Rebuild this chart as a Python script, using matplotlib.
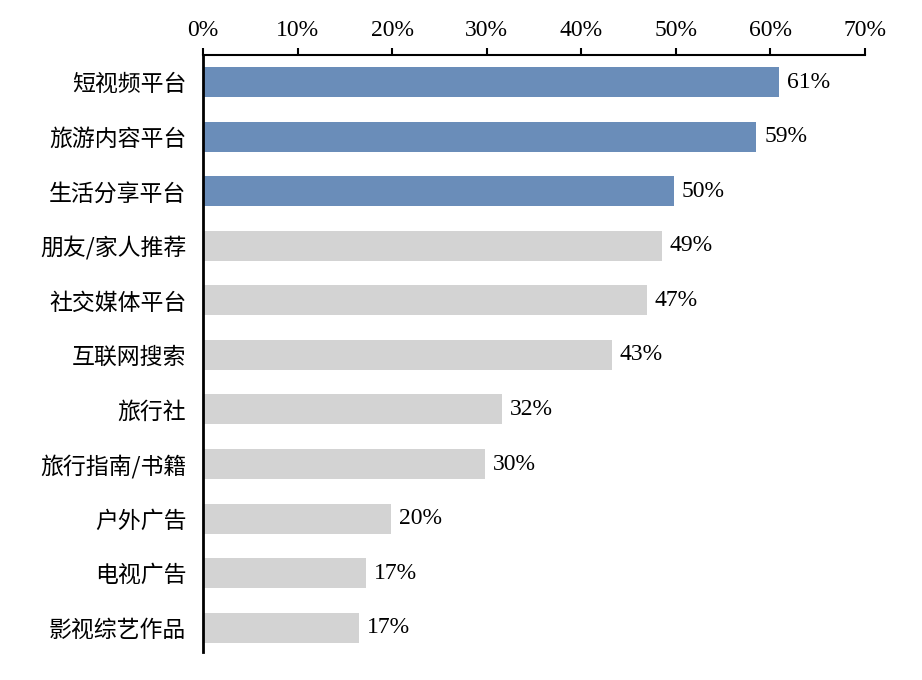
import numpy as np
import matplotlib.pyplot as plt
from matplotlib.ticker import PercentFormatter

# 信息渠道（从上到下）
channels = ['短视频平台', '旅游内容平台', '生活分享平台', '朋友/家人推荐', '社交媒体平台',
            '互联网搜索', '旅行社', '旅行指南/书籍', '户外广告', '电视广告', '影视综艺作品']
# 条形长度（%，从图上估读）
values = [60.9, 58.5, 49.8, 48.5, 46.9, 43.2, 31.6, 29.8, 19.9, 17.2, 16.5]
# 数据标签
value_labels = ['61%', '59%', '50%', '49%', '47%', '43%', '32%', '30%', '20%', '17%', '17%']
n_highlight = 3

blue = '#6A8DB9'
grey = '#D3D3D3'

fig = plt.figure(figsize=(9.22, 6.8), dpi=100)
ax = fig.add_axes([0.2202, 0.041, 0.718, 0.878])

y = np.arange(len(channels))
colors = [blue if i < n_highlight else grey for i in range(len(channels))]
ax.barh(y, values, height=0.55, color=colors)

for yi, v, lab in zip(y, values, value_labels):
    ax.text(v + 0.85, yi, lab, va='center', ha='left',
            fontsize=17, family='Liberation Serif')

ax.set_xlim(0, 70)
ax.set_ylim(len(channels) - 0.55, -0.5)
ax.set_xticks(np.arange(0, 71, 10))
ax.xaxis.set_major_formatter(PercentFormatter(decimals=0))
ax.xaxis.tick_top()
ax.tick_params(axis='x', direction='out', length=5, width=1.5, pad=5)
for t in ax.get_xticklabels():
    t.set_family('Liberation Serif')
    t.set_fontsize(17)

ax.set_yticks(y)
ax.set_yticklabels(channels, family=['Noto Sans CJK SC', 'DejaVu Sans'], fontsize=16.5)
ax.tick_params(axis='y', length=0, pad=12)

ax.spines['right'].set_visible(False)
ax.spines['bottom'].set_visible(False)
ax.spines['top'].set_linewidth(1.5)
ax.spines['left'].set_linewidth(2)

fig.savefig('out.png', dpi=100)
